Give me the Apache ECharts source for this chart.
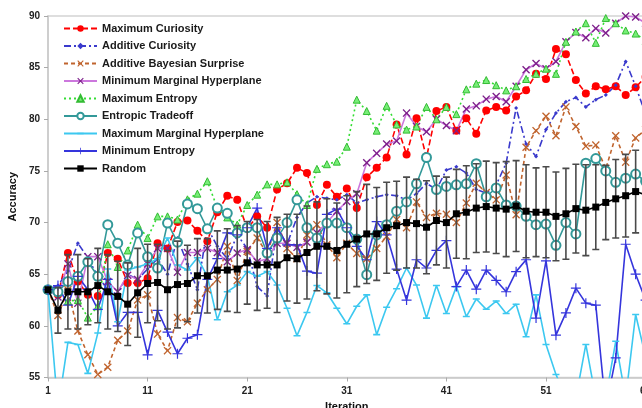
<!DOCTYPE html>
<html><head><meta charset="utf-8">
<script src="https://cdn.jsdelivr.net/npm/echarts@6/dist/echarts.min.js"></script>
<style>html,body{margin:0;padding:0;background:#fff}#c{width:642px;height:408px}</style>
</head><body><div id="c"></div>
<script>
const iterations = ['1','2','3','4','5','6','7','8','9','10','11','12','13','14','15','16','17','18','19','20','21','22','23','24','25','26','27','28','29','30','31','32','33','34','35','36','37','38','39','40','41','42','43','44','45','46','47','48','49','50','51','52','53','54','55','56','57','58','59','60','61'];

const maxCuriosity = [63.5,63.0,67.05,64.3,63.0,62.9,67.05,66.5,64.15,64.15,64.6,68.0,67.5,70.05,70.2,69.2,68.2,71.0,72.6,72.2,69.4,70.6,69.5,73.2,73.8,75.3,74.8,71.7,73.65,72.5,73.3,71.4,74.4,75.3,76.3,79.5,76.6,80.1,76.3,80.8,81.2,78.9,80.1,78.6,80.85,81.2,80.85,82.2,82.8,84.4,83.9,86.8,86.3,83.8,82.5,83.2,82.9,83.2,82.35,83.1,84.1];

const addCuriosity = [63.5,63.9,65.3,68.0,66.6,64.8,63.5,63.0,65.0,64.5,65.5,66.5,65.0,68.5,66.0,63.5,69.5,67.7,66.5,68.8,67.5,63.8,62.9,69.5,67.9,70.5,71.9,72.5,72.35,72.2,72.7,71.9,72.2,72.5,72.7,72.6,72.2,72.8,73.8,73.2,75.1,75.4,74.8,73.2,72.85,73.65,75.75,81.1,77.6,76.4,79.0,80.6,81.7,82.1,81.2,81.9,82.35,83.3,85.6,83.2,80.5];

const addBayesian = [63.5,61.0,63.5,59.5,57.2,55.3,56.0,58.6,59.5,62.5,63.0,59.2,57.6,60.8,60.4,62.2,63.5,64.5,67.7,64.4,67.2,68.5,67.0,70.0,67.5,66.5,68.8,69.8,67.85,66.6,68.0,67.0,66.5,67.5,68.65,70.3,69.5,72.0,70.5,70.9,70.8,70.0,71.9,73.8,72.9,72.2,74.6,70.75,77.3,78.9,80.3,78.4,81.2,79.3,77.4,77.5,75.2,78.4,75.85,78.2,79.0];

const minMarginal = [63.5,62.8,66.0,62.2,66.7,66.7,64.3,63.3,64.9,64.5,66.0,67.5,67.5,65.2,67.1,67.1,67.5,67.1,66.2,67.05,67.4,66.2,66.5,68.0,68.0,67.6,68.1,69.0,70.0,71.1,72.05,72.8,75.8,76.7,77.6,77.9,80.6,79.3,78.8,80.0,79.4,78.9,81.0,81.3,81.95,82.2,81.7,83.2,84.8,85.4,84.9,85.6,87.5,88.4,87.9,88.8,88.35,89.3,90.0,89.9,89.3];

const maxEntropy = [63.5,63.6,62.4,62.5,60.8,61.9,67.9,65.7,67.3,69.8,68.5,70.6,70.6,70.3,72.25,72.8,74.0,71.4,70.5,69.8,71.7,72.7,73.7,73.7,73.9,72.75,71.7,75.2,75.65,75.9,77.35,81.9,80.8,78.9,81.3,79.5,79.0,79.3,81.2,80.0,81.2,80.5,82.9,83.45,83.8,83.3,82.8,83.2,83.9,84.4,84.9,84.4,87.5,88.5,89.3,87.4,89.8,89.3,88.6,88.3,87.6];

const entropicTradeoff = [63.5,63.3,64.3,64.8,66.2,64.8,69.8,68.0,65.9,69.0,66.7,65.6,69.95,68.1,71.8,71.35,69.4,71.4,70.9,69.0,69.5,69.5,67.05,68.5,70.0,72.2,69.5,68.5,69.95,69.95,69.5,68.4,64.95,68.8,69.8,71.1,72.0,73.75,76.3,73.2,73.5,73.65,73.75,75.7,72.5,73.35,71.7,71.6,70.6,69.8,69.85,67.8,70.0,68.9,75.75,76.2,75.0,73.9,74.3,74.7,74.0];

const maxMarginal = [63.5,52.0,58.4,58.2,55.4,59.3,65.5,60.4,65.4,65.7,66.0,66.5,68.5,65.9,65.4,66.6,64.8,60.6,63.3,63.95,65.25,64.8,65.25,63.95,61.7,59.05,61.3,63.9,63.2,61.7,60.2,61.9,63.0,59.15,61.8,63.6,65.6,63.95,60.75,63.9,61.2,63.8,60.9,62.6,61.6,62.4,61.2,62.1,58.95,63.0,58.2,55.3,53.0,53.0,58.2,53.0,53.0,58.5,53.0,61.1,57.0];

const minEntropy = [63.5,63.9,62.0,64.8,63.5,61.6,64.5,60.0,61.3,61.3,57.2,61.5,59.4,57.3,58.8,59.15,64.5,66.5,69.0,68.8,69.5,71.4,67.5,69.5,67.85,67.85,65.3,65.1,70.8,71.3,69.5,67.7,66.4,70.1,68.8,65.5,62.5,66.4,65.6,67.3,68.25,63.8,65.4,63.55,65.4,64.4,63.3,65.25,66.4,60.75,66.3,59.1,61.25,63.65,62.2,62.0,52.0,56.9,67.9,65.0,62.5];

const random = [63.5,61.5,63.3,63.3,63.3,63.9,63.3,62.85,62.1,63.2,64.1,64.2,63.5,64.0,64.1,64.85,64.85,65.4,65.4,65.5,66.1,65.9,65.9,65.9,66.6,66.5,67.1,67.7,67.7,67.3,67.9,68.4,68.9,68.9,69.5,69.7,70.0,69.9,69.55,70.2,70.0,70.85,71.0,71.4,71.55,71.4,71.3,71.6,71.1,71.0,71.0,70.6,70.85,71.35,71.2,71.5,71.95,72.3,72.6,73.0,72.7];

const randomErr = [0,2.2,3.6,3.6,3.2,3.6,3.6,3.4,4.0,4.3,3.8,3.7,3.8,4.2,3.7,3.6,3.6,3.8,4.0,4.2,4.0,4.4,4.2,4.6,4.2,4.3,4.5,4.3,4.6,4.6,4.7,4.6,4.8,4.5,4.4,4.3,4.4,4.3,4.5,4.3,4.4,4.3,4.5,4.3,4.4,4.4,4.6,4.4,4.5,4.3,4.4,4.3,4.4,4.3,4.4,4.1,3.6,3.8,4.0,4.0,4.2];

const seriesNames = ['Maximum Curiosity','Additive Curiosity','Additive Bayesian Surprise','Minimum Marginal Hyperplane','Maximum Entropy','Entropic Tradeoff','Maximum Marginal Hyperplane','Minimum Entropy','Random'];

const X_PATH = 'path://M0,1.2L1.2,0L5,3.8L8.8,0L10,1.2L6.2,5L10,8.8L8.8,10L5,6.2L1.2,10L0,8.8L3.8,5Z';
const PLUS_PATH = 'path://M4.4,0H5.6V4.4H10V5.6H5.6V10H4.4V5.6H0V4.4H4.4Z';
const DASH_PATH = 'path://M0,0H0.01V0.01H0Z M0,3.9H10V6.1H0Z M9.99,9.99H10V10H9.99Z';

const errData = [];
randomErr.forEach((e, i) => { if (e > 0) errData.push([i, random[i] - e, random[i] + e]); });

function lineSeries(name, data, color, lineType, symbol, size, itemStyle, extra) {
  return Object.assign({
    name: name, type: 'line', data: data, showAllSymbol: true, symbol: symbol, symbolSize: size,
    lineStyle: {color: color, width: 1.6, type: lineType},
    itemStyle: Object.assign({color: color}, itemStyle || {}),
    emphasis: {disabled: true}, animation: false, z: 2
  }, extra || {});
}

const chart = echarts.init(document.getElementById('c'), null, {renderer: 'canvas'});
chart.setOption({
  backgroundColor: '#fff',
  animation: false,
  textStyle: {fontFamily: 'Liberation Sans, Arial, sans-serif'},
  grid: {left: 48, top: 16, width: 597.6, height: 361.5, show: true, borderColor: '#d4d4d4', borderWidth: 1.5, containLabel: false, outerBoundsMode: 'none'},
  legend: {
    data: seriesNames, orient: 'vertical', left: 63, top: 23, padding: 0, itemWidth: 33, itemHeight: 8, itemGap: 6.5,
    textStyle: {fontSize: 11, fontWeight: 'bold', color: '#1a1a1a', fontFamily: 'Liberation Sans, Arial, sans-serif'},
    selectedMode: false
  },
  xAxis: {
    type: 'category', data: iterations, boundaryGap: false,
    name: 'Iteration', nameLocation: 'middle', nameGap: 21,
    nameTextStyle: {fontSize: 11, fontWeight: 'bold', color: '#111'},
    axisLine: {lineStyle: {color: '#c8c8c8', width: 1.5}},
    axisTick: {interval: 9, length: 4, lineStyle: {color: '#aaa'}},
    axisLabel: {interval: 9, fontSize: 10, fontWeight: 'bold', color: '#222', margin: 9},
    splitLine: {show: false}
  },
  yAxis: {
    type: 'value', min: 55, max: 90, interval: 5,
    name: 'Accuracy', nameLocation: 'middle', nameGap: 25, nameRotate: 90,
    nameTextStyle: {fontSize: 11, fontWeight: 'bold', color: '#111'},
    axisLine: {show: true, lineStyle: {color: '#c8c8c8', width: 1.5}},
    axisTick: {show: true, length: 4, lineStyle: {color: '#aaa'}},
    axisLabel: {fontSize: 10, fontWeight: 'bold', color: '#222', margin: 8},
    splitLine: {show: false}
  },
  series: [
    lineSeries('Maximum Curiosity', maxCuriosity, '#ff0000', [6,3], 'circle', 8),
    lineSeries('Additive Curiosity', addCuriosity, '#3a3acc', [7,3,2,3], 'diamond', 4),
    lineSeries('Additive Bayesian Surprise', addBayesian, '#c0642e', [4,3], X_PATH, 8),
    lineSeries('Minimum Marginal Hyperplane', minMarginal, '#cc77dd', 'solid', X_PATH, 8, {color: '#7d1f8a'}),
    lineSeries('Maximum Entropy', maxEntropy, '#33dd33', [2,3], 'triangle', 7, {color: '#77ee77', borderColor: '#33bb33', borderWidth: 1}),
    lineSeries('Entropic Tradeoff', entropicTradeoff, '#339999', 'solid', 'emptyCircle', 9, {borderWidth: 1.3}),
    lineSeries('Maximum Marginal Hyperplane', maxMarginal, '#3cc8f0', 'solid', DASH_PATH, 7),
    lineSeries('Minimum Entropy', minEntropy, '#3535dc', 'solid', PLUS_PATH, 10),
    {
      name: 'RandomErr', type: 'custom', data: errData, z: 3, clip: true, silent: true,
      encode: {x: 0, y: [1, 2]},
      renderItem: function (params, api) {
        const x = api.value(0);
        const top = api.coord([x, api.value(2)]);
        const bot = api.coord([x, api.value(1)]);
        const w = 3.5;
        const st = {stroke: '#4a4a4a', lineWidth: 1.6};
        return {type: 'group', children: [
          {type: 'line', shape: {x1: top[0], y1: top[1], x2: bot[0], y2: bot[1]}, style: st},
          {type: 'line', shape: {x1: top[0]-w, y1: top[1], x2: top[0]+w, y2: top[1]}, style: st},
          {type: 'line', shape: {x1: bot[0]-w, y1: bot[1], x2: bot[0]+w, y2: bot[1]}, style: st}
        ]};
      }
    },
    lineSeries('Random', random, '#000000', 'solid', 'rect', 7, null, {z: 4})
  ]
});
</script></body></html>
